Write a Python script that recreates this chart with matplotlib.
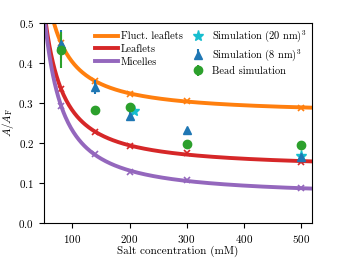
import numpy as np
import matplotlib
matplotlib.use("Agg")
import matplotlib.pyplot as plt

plt.rcParams["font.family"] = "serif"
plt.rcParams["font.serif"] = ["cmr10"]
plt.rcParams["mathtext.fontset"] = "cm"
plt.rcParams["axes.formatter.use_mathtext"] = True
plt.rcParams["font.size"] = 8

# theory values (markers on the curves)
salt = [80, 140, 200, 300, 500]
fluct = [0.45, 0.355, 0.322, 0.306, 0.288]
leaflets = [0.335, 0.228, 0.192, 0.175, 0.153]
micelles = [0.293, 0.172, 0.128, 0.107, 0.087]

# simulations
sim20_x = [208, 500]
sim20_y = [0.281, 0.167]
sim8_x = [80, 140, 200, 300, 500]
sim8_y = [0.447, 0.340, 0.268, 0.233, 0.164]
sim8_err = [0.035, 0.017, 0.010, 0.0, 0.0]
bead_x = [80, 140, 200, 300, 500]
bead_y = [0.433, 0.282, 0.289, 0.197, 0.194]
bead_err = [0.045, 0.0, 0.0, 0.0, 0.0]

fig = plt.figure(figsize=(3.46, 2.6), dpi=100)
ax = fig.add_axes([0.127, 0.142, 0.775, 0.77])

xs = np.linspace(50, 520, 300)
for vals, col, lab in [(fluct, "tab:orange", "Fluct. leaflets"),
                       (leaflets, "tab:red", "Leaflets"),
                       (micelles, "tab:purple", "Micelles")]:
    # smooth curve: quadratic fit in 1/c
    p = np.polyfit(1 / np.array(salt), vals, 2)
    ax.plot(xs, np.polyval(p, 1 / xs), color=col, lw=2.8, label=lab)
    ax.plot(salt, vals, "x", color=col, ms=5, mew=1.2)

ax.plot(sim20_x, sim20_y, "*", color="tab:cyan", ms=8, ls="none",
        label="Simulation (20 nm)$^3$")
ax.errorbar(sim8_x, sim8_y, yerr=sim8_err, fmt="^", color="tab:blue", ms=6,
            elinewidth=1.5, label="Simulation (8 nm)$^3$")
ax.errorbar(bead_x, bead_y, yerr=bead_err, fmt="o", color="tab:green", ms=6,
            elinewidth=1.5, label="Bead simulation")

ax.set_xlim(50, 520)
ax.set_ylim(0, 0.5)
ax.set_xticks([100, 200, 300, 400, 500])
ax.set_yticks([0.0, 0.1, 0.2, 0.3, 0.4, 0.5])
ax.set_xlabel("Salt concentration (mM)", labelpad=1)
ax.set_ylabel(r"$A/A_\mathrm{F}$", labelpad=2)
ax.legend(ncol=2, frameon=False, loc="upper right", fontsize=7.5,
          handlelength=2.3, columnspacing=0.3, labelspacing=0.3,
          borderaxespad=0.15, handletextpad=0.2)

fig.savefig("out.png", dpi=100)
